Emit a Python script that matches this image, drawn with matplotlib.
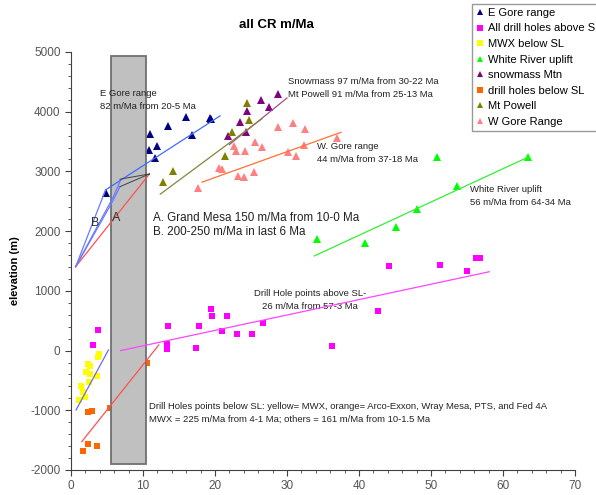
import matplotlib
matplotlib.use("Agg")
import matplotlib.pyplot as plt
from matplotlib.patches import Rectangle
from matplotlib.ticker import MultipleLocator

plt.rcParams['font.family'] = ['Liberation Sans', 'DejaVu Sans']
plt.rcParams['axes.unicode_minus'] = False

# ---- data (age in Ma, elevation in m) ----
egore_x = [4.9, 11.0, 10.8, 11.9, 11.7, 13.5, 16.0, 16.8, 19.3, 19.5]
egore_y = [2640, 3630, 3360, 3430, 3230, 3760, 3910, 3610, 3900, 3880]

above_x = [3.0, 3.7, 13.5, 13.3, 13.3, 17.3, 17.8, 19.4, 19.6, 21.0, 21.7, 23.1,
           25.1, 26.7, 36.2, 42.7, 44.1, 51.3, 55.0, 56.3, 56.8]
above_y = [85, 340, 410, 105, 20, 40, 415, 690, 580, 320, 575, 275,
           275, 460, 80, 670, 1415, 1430, 1335, 1545, 1555]

mwx_x = [3.9, 3.7, 2.3, 2.7, 2.1, 2.6, 3.65, 2.5, 1.35, 1.9, 1.15, 1.7]
mwx_y = [-60, -115, -220, -250, -355, -385, -425, -520, -595, -770, -830, -700]

white_x = [34.2, 40.9, 45.2, 48.1, 53.6, 50.8, 63.5]
white_y = [1865, 1800, 2075, 2365, 2755, 3240, 3240]

snow_x = [21.8, 23.5, 24.3, 24.5, 26.4, 27.5, 28.8]
snow_y = [3590, 3825, 3665, 4015, 4200, 4085, 4295]

below_x = [2.4, 2.9, 2.3, 1.6, 3.65, 5.4, 10.5]
below_y = [-1025, -1015, -1565, -1675, -1605, -965, -205]

powell_x = [12.8, 14.1, 21.4, 22.4, 24.4, 24.7]
powell_y = [2815, 3015, 3260, 3660, 4140, 3865]

wgore_x = [17.7, 20.5, 21.0, 22.6, 22.9, 24.2, 23.2, 24.0, 25.4, 25.5, 26.5,
           28.8, 30.8, 32.5, 30.2, 31.2, 32.3, 37.0]
wgore_y = [2730, 3050, 3035, 3425, 3350, 3350, 2925, 2910, 2990, 3490, 3410,
           3750, 3805, 3710, 3330, 3260, 3450, 3560]

# fitted trend lines
egore_fit = ([4.8, 20.7], [2690, 3930])
snow_fit = ([22.0, 30.0], [3450, 4230])
powell_fit = ([12.4, 26.5], [2620, 3880])
wgore_fit = ([18.2, 37.5], [2820, 3655])
white_fit = ([33.8, 63.5], [1585, 3240])
above_fit = ([6.9, 58.1], [0, 1320])
mwx_fit = ([0.7, 5.2], [-995, 10])
others_fit = ([1.5, 12.2], [-1525, 95])
mesa_fit = ([0.65, 10.9], [1405, 2958])
b_lines = [([0.65, 4.8], [1405, 2690]),
           ([0.65, 5.9, 6.8], [1405, 2580, 2830]),
           ([0.65, 5.65, 6.8], [1405, 2470, 2745])]
a_lines = [([6.8, 10.9], [2870, 2958]),
           ([6.8, 10.9], [2745, 2958])]

# grey band
band_x = [5.5, 10.4]
band_y = [-1900, 4930]

fig = plt.figure(figsize=(5.96, 4.95), dpi=100)
ax = fig.add_axes([71 / 596, 25 / 495, 504 / 596, 418 / 495])

series = [
    (egore_x, egore_y, '^', '#000080', 'E Gore range'),
    (above_x, above_y, 's', '#ff00ff', 'All drill holes above SL'),
    (mwx_x, mwx_y, 's', '#ffff00', 'MWX below SL'),
    (white_x, white_y, '^', '#00ff00', 'White River uplift'),
    (snow_x, snow_y, '^', '#800080', 'snowmass Mtn'),
    (below_x, below_y, 's', '#ff6600', 'drill holes below SL'),
    (powell_x, powell_y, '^', '#808000', 'Mt Powell'),
    (wgore_x, wgore_y, '^', '#ff8080', 'W Gore Range'),
]
for xs, ys, m, c, lab in series:
    ms = 5.5 if m == '^' else 5
    ax.plot(xs, ys, linestyle='none', marker=m, color=c, markersize=ms,
            markeredgewidth=0, label=lab, zorder=2)

ax.add_patch(Rectangle((band_x[0], band_y[0]), band_x[1] - band_x[0],
                       band_y[1] - band_y[0], facecolor='#c0c0c0',
                       edgecolor='#707070', linewidth=1.3, zorder=3))

lw = 0.9
ax.plot(*egore_fit, color='#3d6dff', lw=lw, zorder=4)
ax.plot(*snow_fit, color='#a0508c', lw=lw, zorder=4)
ax.plot(*powell_fit, color='#85853a', lw=lw, zorder=4)
ax.plot(*wgore_fit, color='#ff7030', lw=lw, zorder=4)
ax.plot(*white_fit, color='#33ee33', lw=lw, zorder=4)
ax.plot(*above_fit, color='#ff44ff', lw=lw, zorder=4)
ax.plot(*mwx_fit, color='#6a6aff', lw=lw, zorder=4)
ax.plot(*others_fit, color='#ff5050', lw=lw, zorder=4)
ax.plot(*mesa_fit, color='#ff5050', lw=lw, zorder=4)
for xs, ys in b_lines:
    ax.plot(xs, ys, color='#6a7aff', lw=lw, zorder=4)
for xs, ys in a_lines:
    ax.plot(xs, ys, color='#404040', lw=0.7, zorder=4)

ax.set_xlim(0, 70)
ax.set_ylim(-2000, 5000)
ax.xaxis.set_major_locator(MultipleLocator(10))
ax.xaxis.set_minor_locator(MultipleLocator(2))
ax.yaxis.set_major_locator(MultipleLocator(1000))
ax.yaxis.set_minor_locator(MultipleLocator(200))
for s in ['top', 'right']:
    ax.spines[s].set_visible(False)
for s in ['left', 'bottom']:
    ax.spines[s].set_color('#404040')
ax.tick_params(which='major', direction='out', length=4, color='#404040',
               labelsize=8.5, labelcolor='#555555')
ax.tick_params(which='minor', direction='out', length=2.5, color='#404040')

ax.set_ylabel('elevation (m)', fontweight='bold', fontsize=8)
ax.yaxis.set_label_coords(-(71 - 20) / 504, (470 - 271) / 418)

fig.text(276 / 596, 1 - 25 / 495, 'all CR m/Ma', fontweight='bold',
         fontsize=9.5, ha='center', va='center')

small = dict(fontsize=6.8, color='#222222', va='center')
ax.text(4.0, 4200, 'E Gore range\n82 m/Ma from 20-5 Ma', linespacing=1.55, **small)
ax.text(30.2, 4400, 'Snowmass 97 m/Ma from 30-22 Ma\nMt Powell 91 m/Ma from 25-13 Ma',
        linespacing=1.55, **small)
ax.text(34.1, 3310, 'W. Gore range\n44 m/Ma from 37-18 Ma', linespacing=1.55, **small)
ax.text(55.4, 2590, 'White River uplift\n56 m/Ma from 64-34 Ma', linespacing=1.55, **small)
ax.text(33.2, 850, 'Drill Hole points above SL-\n26 m/Ma from 57-3 Ma',
        linespacing=1.55, ha='center', **small)
ax.text(10.9, -1045, 'Drill Holes points below SL: yellow= MWX, orange= Arco-Exxon, '
        'Wray Mesa, PTS, and Fed 4A\nMWX = 225 m/Ma from 4-1 Ma; others = 161 m/Ma '
        'from 10-1.5 Ma', linespacing=1.55, **small)
ax.text(11.35, 2100, 'A. Grand Mesa 150 m/Ma from 10-0 Ma\nB. 200-250 m/Ma in last 6 Ma',
        fontsize=8.4, color='#222222', va='center', linespacing=1.25, zorder=5)
ax.text(3.4, 2130, 'B', fontsize=9, color='#333333', ha='center', va='center', zorder=5)
ax.text(6.25, 2215, 'A', fontsize=9, color='#333333', ha='center', va='center', zorder=5)

leg = ax.legend(loc='upper left', bbox_to_anchor=(472 / 596, 1 - 4 / 495),
                bbox_transform=fig.transFigure, fontsize=8, frameon=True,
                fancybox=False, shadow=False, borderaxespad=0, borderpad=0.35,
                handlelength=0.7, handletextpad=0.35, labelspacing=0.5,
                markerscale=0.8)
leg.get_frame().set_edgecolor('#808080')
leg.get_frame().set_linewidth(1.0)

fig.savefig('out.png', dpi=100)
